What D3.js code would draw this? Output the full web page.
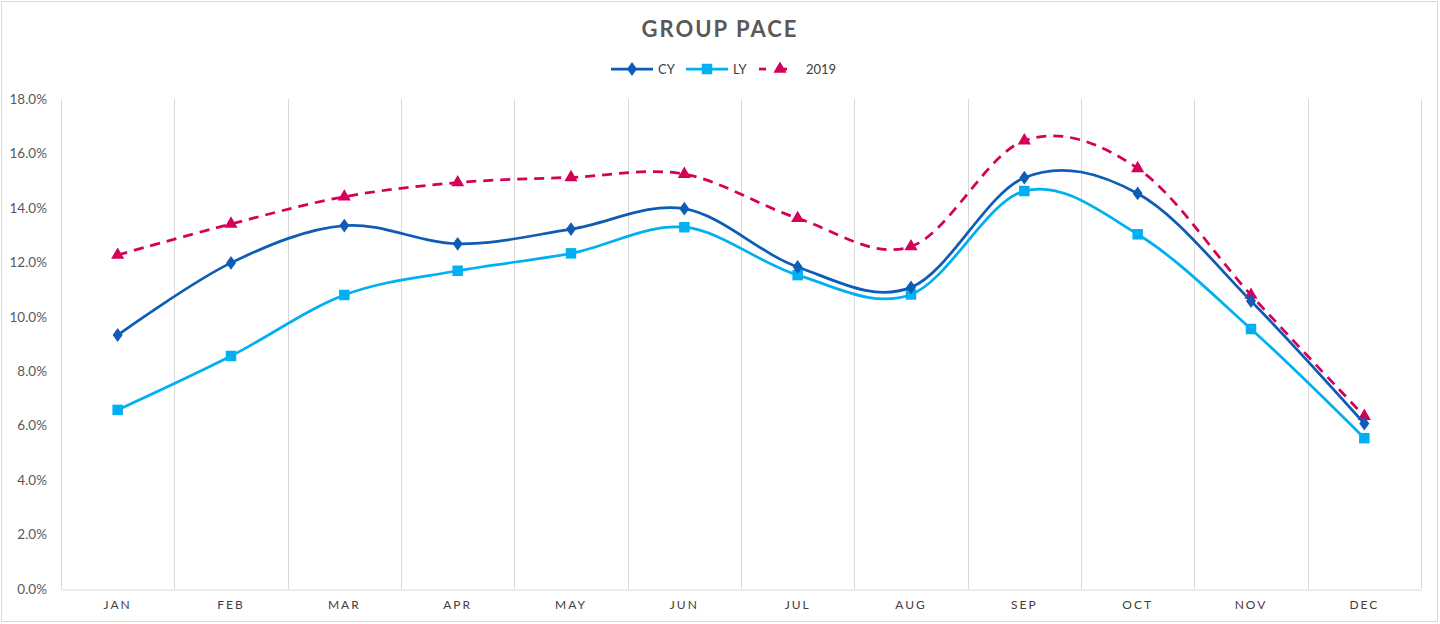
<!DOCTYPE html>
<html>
<head>
<meta charset="utf-8">
<script src="https://cdn.jsdelivr.net/npm/d3@7"></script>
<style>
  html, body { margin: 0; padding: 0; background: #fff; }
  svg { display: block; }
</style>
</head>
<body>
<svg id="chart" width="1440" height="624"></svg>
<script>
const months = ["JAN","FEB","MAR","APR","MAY","JUN","JUL","AUG","SEP","OCT","NOV","DEC"];
const cy   = [9.33, 11.98, 13.35, 12.68, 13.22, 13.97, 11.83, 11.08, 15.11, 14.53, 10.58, 6.08];
const ly   = [6.58, 8.56, 10.80, 11.69, 12.33, 13.29, 11.53, 10.82, 14.62, 13.03, 9.55, 5.54];
const y2019 = [12.27, 13.41, 14.41, 14.93, 15.12, 15.24, 13.62, 12.58, 16.47, 15.45, 10.80, 6.35];
const yTicks = [0, 2, 4, 6, 8, 10, 12, 14, 16, 18];
const seriesNames = ["CY", "LY", "2019"];

const svg = d3.select("#chart");
const W = 1440, H = 624;
const m = {left: 61, right: 19, top: 99, bottom: 35};
const font = "Lato, 'Open Sans', 'DejaVu Sans', sans-serif";

// outer border
svg.append("rect").attr("x", 1.5).attr("y", 1.5).attr("width", 1436).attr("height", 620)
  .attr("fill", "#fff").attr("stroke", "#d9d9d9").attr("stroke-width", 1);

const x = d3.scaleBand().domain(months).range([m.left, W - m.right]).padding(0);
const y = d3.scaleLinear().domain([0, 18]).range([H - m.bottom, m.top]);

// vertical gridlines at band boundaries
const grid = svg.append("g");
const bounds = months.map(d => x(d)).concat([x.range()[1]]);
grid.selectAll("line").data(bounds).enter().append("line")
  .attr("x1", d => Math.round(d) + 0.5).attr("x2", d => Math.round(d) + 0.5)
  .attr("y1", y(18)).attr("y2", y(0))
  .attr("stroke", "#d9d9d9").attr("stroke-width", 1);

// x axis
const xAxis = svg.append("g").attr("transform", `translate(0,${Math.round(y(0)) + 0.5})`)
  .call(d3.axisBottom(x).tickSize(0).tickPadding(11));
xAxis.select(".domain").attr("stroke", "#d9d9d9");
xAxis.selectAll("text").attr("font-family", font).attr("font-size", 12).attr("font-weight", 400)
  .attr("fill", "#404040").attr("letter-spacing", "2px");

// y axis
const yAxis = svg.append("g").attr("transform", `translate(${m.left},0)`)
  .call(d3.axisLeft(y).tickValues(yTicks).tickSize(0).tickPadding(14).tickFormat(d => d.toFixed(1) + "%"));
yAxis.select(".domain").remove();
yAxis.selectAll("text").attr("font-family", font).attr("font-size", 13.5).attr("fill", "#595959");

// title
svg.append("text").attr("x", 720).attr("y", 37).attr("text-anchor", "middle")
  .attr("font-family", font).attr("font-size", 22).attr("font-weight", 700)
  .attr("letter-spacing", "2px").attr("fill", "#595959").text("GROUP PACE");

const series = [
  {name: seriesNames[0], values: cy, color: "#0E5CB5", dash: null, symbol: d3.symbolDiamond, size: 55},
  {name: seriesNames[1], values: ly, color: "#00B0F0", dash: null, symbol: d3.symbolSquare, size: 110},
  {name: seriesNames[2], values: y2019, color: "#D4005A", dash: "10,7", symbol: d3.symbolTriangle, size: 75}
];

const line = d3.line()
  .x((d, i) => x(months[i]) + x.bandwidth() / 2)
  .y(d => y(d))
  .curve(d3.curveCardinal.tension(0));

const drawOrder = [series[2], series[1], series[0]];
drawOrder.forEach(s => {
  const g = svg.append("g");
  g.append("path").datum(s.values).attr("d", line)
    .attr("fill", "none").attr("stroke", s.color).attr("stroke-width", 2.75)
    .attr("stroke-dasharray", s.dash);
  g.selectAll("path.mk").data(s.values).enter().append("path").attr("class", "mk")
    .attr("d", d3.symbol().type(s.symbol).size(s.size))
    .attr("transform", (d, i) => `translate(${x(months[i]) + x.bandwidth() / 2},${y(d)})${s.symbol === d3.symbolDiamond ? " scale(1.25,1)" : ""}`)
    .attr("fill", s.color);
});

// legend
const legendItems = [
  {s: series[0], x0: 611},
  {s: series[1], x0: 686},
  {s: series[2], x0: 759}
];
const ly0 = 69;
legendItems.forEach(it => {
  const g = svg.append("g");
  g.append("line").attr("x1", it.x0).attr("x2", it.x0 + 42).attr("y1", ly0).attr("y2", ly0)
    .attr("stroke", it.s.color).attr("stroke-width", 2.75).attr("stroke-dasharray", it.s.dash ? "7,14" : null);
  g.append("path").attr("d", d3.symbol().type(it.s.symbol).size(it.s.size))
    .attr("transform", `translate(${it.x0 + 21},${ly0})${it.s.symbol === d3.symbolDiamond ? " scale(1.25,1)" : ""}`)
    .attr("fill", it.s.color);
  g.append("text").attr("x", it.x0 + 47).attr("y", ly0 + 4.5)
    .attr("font-family", font).attr("font-size", 13).attr("fill", "#404040").text(it.s.name);
});
</script>
</body>
</html>
